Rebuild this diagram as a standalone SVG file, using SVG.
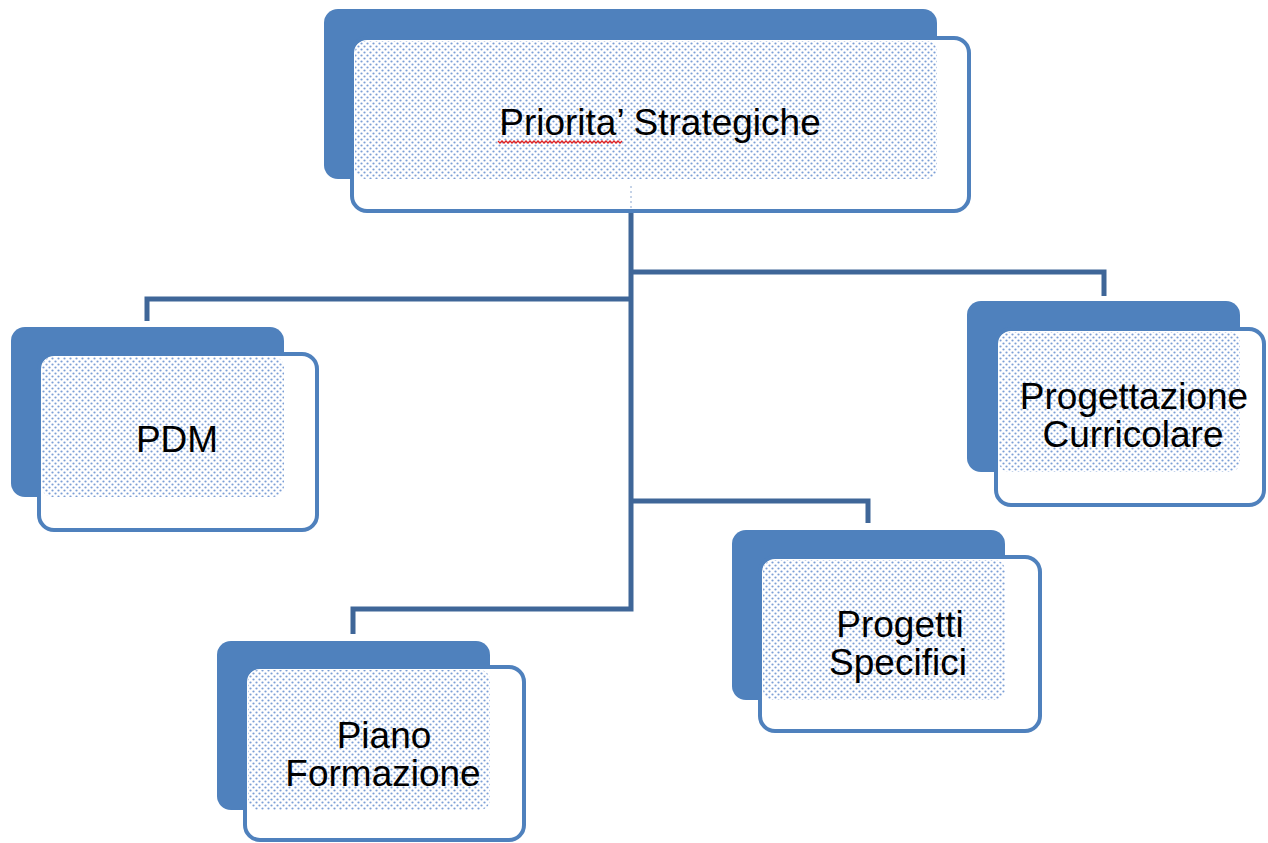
<svg xmlns="http://www.w3.org/2000/svg" width="1268" height="843" viewBox="0 0 1268 843">
<style>
.back{fill:#4f81bd}
.front{fill:#ffffff;stroke:#4f81bd;stroke-width:4}
.dots{fill:url(#dp)}
.lbl{font-family:"Liberation Sans",Arial,sans-serif;font-size:37px;fill:#000;text-anchor:middle}
.conn{fill:none;stroke:#3f6698;stroke-width:5;stroke-linejoin:miter}
</style>
<defs>
<pattern id="dp" patternUnits="userSpaceOnUse" width="6" height="6">
<rect width="6" height="6" fill="#ffffff"/>
<circle cx="1.5" cy="1.5" r="1.1" fill="#7c9fd6"/>
<circle cx="4.5" cy="4.5" r="1.1" fill="#7c9fd6"/>
</pattern>
</defs>
<g id="connectors">
<path class="conn" d="M631 212 V609 H353 V634"/>
<path class="conn" d="M631 299 H147 V321"/>
<path class="conn" d="M631 272 H1104 V296"/>
<path class="conn" d="M631 501 H868 V523"/>
</g>
<g id="node-priorita">
<rect class="back" x="324" y="9" width="613" height="170" rx="14"/>
<rect class="front" x="352" y="38" width="617" height="173" rx="15"/>
<rect class="dots" x="355" y="41" width="582" height="138" rx="10"/>
<line x1="631" y1="186" x2="631" y2="210" stroke="#8aa6d0" stroke-width="1" stroke-dasharray="2 3"/>
<text class="lbl" x="660" y="135">Priorita’ Strategiche</text>
<path d="M498 141 l2 2 l2 -2 l2 2 l2 -2 l2 2 l2 -2 l2 2 l2 -2 l2 2 l2 -2 l2 2 l2 -2 l2 2 l2 -2 l2 2 l2 -2 l2 2 l2 -2 l2 2 l2 -2 l2 2 l2 -2 l2 2 l2 -2 l2 2 l2 -2 l2 2 l2 -2 l2 2 l2 -2 l2 2 l2 -2 l2 2 l2 -2 l2 2 l2 -2 l2 2 l2 -2 l2 2 l2 -2 l2 2 l2 -2 l2 2 l2 -2 l2 2 l2 -2 l2 2 l2 -2 l2 2 l2 -2 l2 2 l2 -2 l2 2 l2 -2 l2 2 l2 -2 l2 2 l2 -2 l2 2 l2 -2 l2 2 l2 -2" fill="none" stroke="#e02020" stroke-width="1.3"/>
</g>
<g id="node-pdm">
<rect class="back" x="11" y="327" width="273" height="170" rx="14"/>
<rect class="front" x="39" y="354" width="278" height="176" rx="15"/>
<rect class="dots" x="42" y="357" width="242" height="140" rx="10"/>
<text class="lbl" x="177" y="452">PDM</text>
</g>
<g id="node-progettazione">
<rect class="back" x="967" y="301" width="273" height="171" rx="14"/>
<rect class="front" x="996" y="329" width="268" height="176" rx="15"/>
<rect class="dots" x="999" y="332" width="241" height="140" rx="10"/>
<text class="lbl" x="1134" y="409">Progettazione</text>
<text class="lbl" x="1133" y="447">Curricolare</text>
</g>
<g id="node-progetti">
<rect class="back" x="732" y="530" width="273" height="170" rx="14"/>
<rect class="front" x="760" y="557" width="280" height="174" rx="15"/>
<rect class="dots" x="763" y="560" width="242" height="140" rx="10"/>
<text class="lbl" x="900" y="637">Progetti</text>
<text class="lbl" x="898" y="675">Specifici</text>
</g>
<g id="node-piano">
<rect class="back" x="217" y="641" width="273" height="169" rx="14"/>
<rect class="front" x="245" y="667" width="279" height="173" rx="15"/>
<rect class="dots" x="248" y="670" width="242" height="140" rx="10"/>
<text class="lbl" x="384" y="748">Piano</text>
<text class="lbl" x="383" y="786">Formazione</text>
</g>
</svg>
